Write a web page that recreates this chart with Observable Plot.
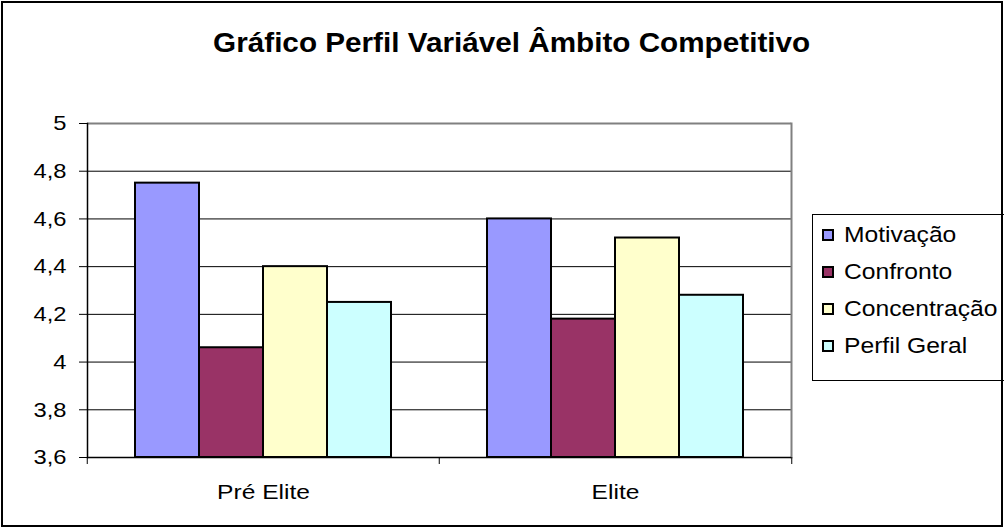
<!DOCTYPE html>
<html>
<head>
<meta charset="utf-8">
<script src="https://cdn.jsdelivr.net/npm/d3@7"></script>
<script src="https://cdn.jsdelivr.net/npm/@observablehq/plot@0.6"></script>
<style>
  html, body { margin: 0; padding: 0; background: #fff; }
  #chart { position: relative; width: 1004px; height: 529px; font-family: "Liberation Sans", Arial, sans-serif; overflow: hidden; }
  #border { position: absolute; left: 1px; top: 1px; width: 1002px; height: 526px; box-sizing: border-box; border: 2px solid #000; pointer-events: none; }
  #title { position: absolute; left: 12px; width: 1000px; top: 27px; text-align: center; font-weight: bold; font-size: 28px; line-height: 32px; color: #000; white-space: nowrap; }
  #title span { display: inline-block; transform: scaleX(1.06); transform-origin: center; }
  #plot { position: absolute; left: 0; top: 0; }
  #legend { position: absolute; left: 812px; top: 214px; width: 200px; height: 167px; box-sizing: border-box; border: 1px solid #000; background: #fff; }
  .item { position: absolute; left: 9px; display: flex; align-items: center; font-size: 22px; line-height: 26px; color: #000; white-space: nowrap; }
  .sw { width: 8px; height: 8px; border: 2px solid #000; margin-right: 10px; flex: none; }
  .item span { display: inline-block; transform: scaleX(1.12); transform-origin: left center; }
</style>
</head>
<body>
<div id="chart">
  <div id="plot"></div>
  <div id="title"></div>
  <div id="legend"></div>
  <div id="border"></div>
</div>
<script>
const chartTitle = "Gráfico Perfil Variável Âmbito Competitivo";
const groups = ["Pré Elite", "Elite"];
const series = ["Motivação", "Confronto", "Concentração", "Perfil Geral"];
const preEliteValues = [4.75, 4.06, 4.40, 4.25];
const eliteValues = [4.60, 4.18, 4.52, 4.28];
const seriesColors = ["#9999FF", "#993366", "#FFFFCC", "#CCFFFF"];
const yTicks = [3.6, 3.8, 4, 4.2, 4.4, 4.6, 4.8, 5];

const data = [];
[preEliteValues, eliteValues].forEach((vals, gi) => {
  vals.forEach((v, si) => data.push({group: groups[gi], series: series[si], value: v}));
});

const W = 1004, H = 529;
const mL = 86, mR = 213, mT = 123, mB = 72;
const halfFacet = (W - mL - mR) / groups.length / 2;
const yMin = yTicks[0], yMax = yTicks[yTicks.length - 1];

const titleSpan = document.createElement("span");
titleSpan.textContent = chartTitle;
document.getElementById("title").appendChild(titleSpan);

const plot = Plot.plot({
  width: W, height: H,
  marginLeft: mL, marginRight: mR, marginTop: mT, marginBottom: mB,
  style: {fontFamily: '"Liberation Sans", Arial, sans-serif', fontSize: "21px", color: "#000", background: "transparent"},
  fx: {domain: groups, padding: 0, label: null},
  x: {domain: series, paddingInner: 0, paddingOuter: 0.75, axis: null},
  y: {domain: [yMin, yMax], label: null},
  color: {domain: series, range: seriesColors},
  marks: [
    Plot.ruleY(yTicks.slice(1, -1), {stroke: "#000", strokeWidth: 1}),
    Plot.ruleY([yMax], {stroke: "#808080", strokeWidth: 2}),
    Plot.frame({anchor: "right", stroke: "#808080", strokeWidth: 2, facetAnchor: "right"}),
    Plot.barY(data, {fx: "group", x: "series", y1: yMin, y2: "value", fill: "series", stroke: "#000", strokeWidth: 2}),
    Plot.ruleY([yMin], {stroke: "#000", strokeWidth: 1.5}),
    Plot.frame({anchor: "left", stroke: "#000", strokeWidth: 1.5, facetAnchor: "left"}),
    Plot.axisY({ticks: yTicks, tickFormat: d => String(d).replace(".", ","), tickSize: 8, tickPadding: 13, fontSize: 21, label: null, className: "ytick"}),
    Plot.axisFx({anchor: "bottom", tickSize: 0, tickPadding: 27, fontSize: 21, label: null, className: "fxlab"}),
    Plot.axisFx({anchor: "bottom", tickSize: 7, tickFormat: () => "", dx: -halfFacet, label: null}),
    Plot.axisFx({anchor: "bottom", ticks: [groups[groups.length - 1]], tickSize: 7, tickFormat: () => "", dx: halfFacet, label: null})
  ]
});
document.getElementById("plot").appendChild(plot);

// horizontal stretch of the axis labels, as in the reference rendering
function stretch(sel, s) {
  plot.querySelectorAll(sel).forEach(t => {
    if (!t.textContent) return;
    const len = t.getComputedTextLength();
    t.setAttribute("textLength", (len * s).toFixed(2));
    t.setAttribute("lengthAdjust", "spacingAndGlyphs");
  });
}
stretch(".ytick text", 1.13);
stretch(".fxlab text", 1.17);

const legend = document.getElementById("legend");
const legendTops = [7, 44, 81, 118];
series.forEach((s, i) => {
  const it = document.createElement("div");
  it.className = "item";
  it.style.top = legendTops[i] + "px";
  const sw = document.createElement("div");
  sw.className = "sw";
  sw.style.background = seriesColors[i];
  const t = document.createElement("span");
  t.textContent = s;
  it.appendChild(sw); it.appendChild(t);
  legend.appendChild(it);
});
</script>
</body>
</html>
